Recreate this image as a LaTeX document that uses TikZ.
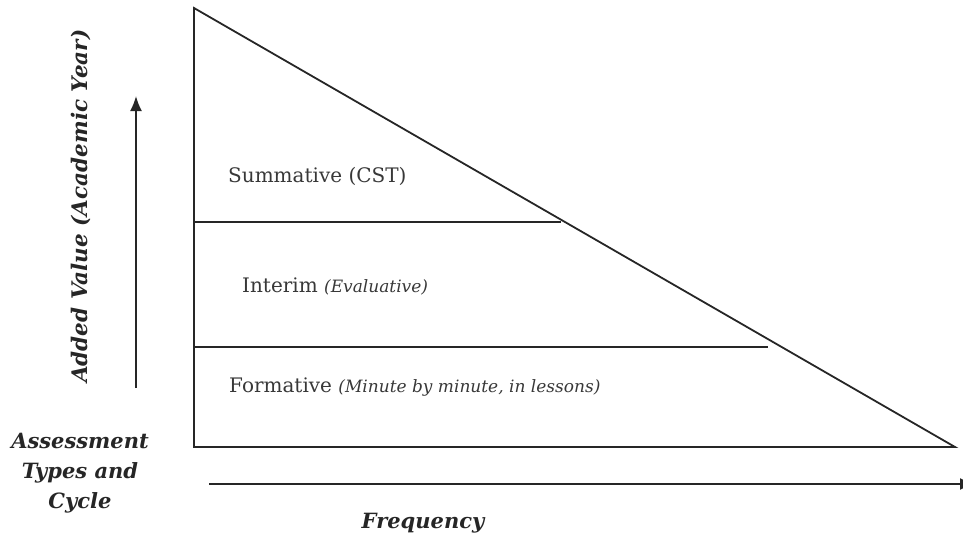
\documentclass[tikz,border=0pt]{standalone}
\usepackage{fontspec}
\setmainfont{DejaVu Serif}
\usetikzlibrary{arrows.meta}
\begin{document}
\begin{tikzpicture}[x=1pt,y=-1pt,
  edge/.style={line width=1.8pt,black!85},
  axis/.style={line width=1.8pt,black!85,-{Latex[length=15pt,width=12pt]}},
  band/.style={anchor=base west,inner sep=0pt,font=\fontsize{20}{24}\selectfont,text=black!78},
  lbl/.style={inner sep=0pt,font=\fontsize{21}{30}\selectfont\bfseries\itshape,text=black!85}]
\useasboundingbox (0,0) rectangle (963,535);
\coordinate (apex) at (194,8);
\coordinate (bl) at (194,447);
\coordinate (br) at (955,447);
\coordinate (s1) at (194,222);
\coordinate (e1) at (561,222);
\coordinate (s2) at (194,347);
\coordinate (e2) at (768,347);
\draw[edge] (apex) -- (bl) -- (br) -- cycle;
\draw[edge] (s1) -- (e1);
\draw[edge] (s2) -- (e2);
\coordinate (va) at (136,388);
\coordinate (vb) at (136,96);
\draw[axis] (va) -- (vb);
\coordinate (ha) at (209,484);
\coordinate (hb) at (975,484);
\draw[axis] (ha) -- (hb);
\node[band] (sum) at (228,182) {Summative (CST)};
\node[band] (int) at (242,292) {Interim {\itshape\fontsize{17}{20}\selectfont(Evaluative)}};
\node[band] (form) at (229,392) {Formative {\itshape\fontsize{17}{20}\selectfont(Minute by minute, in lessons)}};
\node[lbl,anchor=base west,rotate=90,font=\fontsize{21.5}{30}\selectfont\bfseries\itshape] (yl) at (87,383) {Added Value (Academic Year)};
\node[lbl,anchor=base,align=center] (al) at (80,508) {Assessment\\Types and\\Cycle};
\node[lbl,anchor=base] (fl) at (423,528) {Frequency};
\end{tikzpicture}
\end{document}
